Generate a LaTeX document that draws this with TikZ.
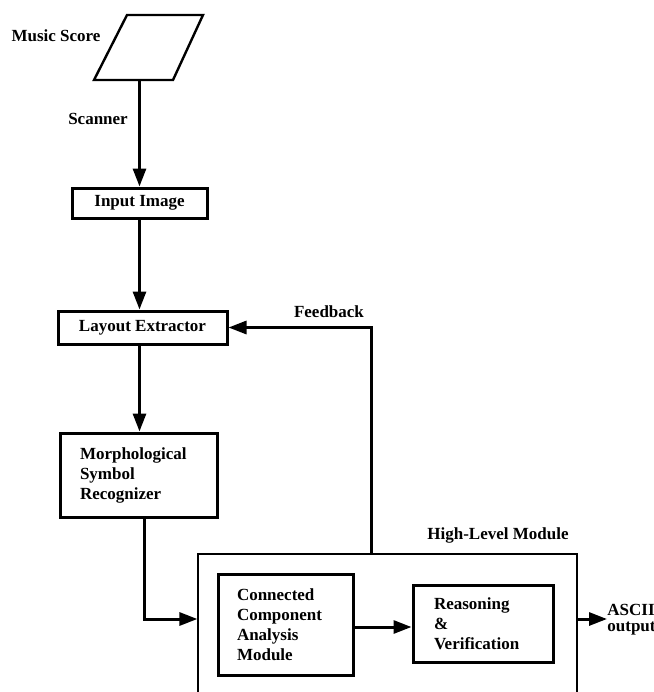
\documentclass[tikz,border=0pt]{standalone}
\usepackage{fontspec}
\setmainfont{Liberation Serif}
\usetikzlibrary{arrows.meta, positioning}

\begin{document}
\begin{tikzpicture}[x=0.5pt, y=-0.5pt,
    every node/.style={font=\fontsize{8.5}{10}\selectfont\bfseries},
    block/.style={draw, line width=1.5pt, inner sep=0pt},
    textblock/.style={block, align=left, text width=#1},
    arr/.style={line width=1.5pt, -{Triangle[length=9pt,width=6.5pt]}}]
    \clip (0,0) rectangle (654,692);

    % Music score and scanner
    \draw[line width=1.2pt] (127,15) -- (203,15) -- (173,80) -- (94,80) -- cycle;
    \coordinate (score) at (139.5,80);
    \node (scorelabel) at (56,36) {Music Score};
    \node (scanner) at (98,119) {Scanner};

    % Front end
    \node[block, minimum width=67.5pt, minimum height=15pt] (input) at (139.5,203) {Input Image};
    \node[block, minimum width=84.5pt, minimum height=16.5pt] (layout) at (142.5,327.5) {Layout Extractor};
    \node[textblock=58.5pt, inner xsep=10pt, minimum height=42pt] (morph) at (138.5,475)
        {Morphological\\Symbol\\Recognizer};

    % High-level module
    \node[draw, line width=0.6pt, minimum width=189.5pt, minimum height=138pt] (hl) at (387.5,692) {};
    \node (hllabel) at (498,535) {High-Level Module};
    \node[textblock=48.5pt, inner xsep=9.5pt, minimum height=50.5pt] (cc) at (285.5,624.5)
        {Connected\\Component\\Analysis\\Module};
    \node[textblock=49pt, inner xsep=10.5pt, minimum height=38.5pt] (rv) at (483,623.5)
        {Reasoning\\\&\\Verification};
    \node[align=left, inner sep=0pt, anchor=west, font=\fontsize{8.5}{8}\selectfont\bfseries] (ascii) at (607,620) {ASCII\\output};

    % Arrows
    \draw[arr] (score) -- (input.north);
    \draw[arr] (input.south) -- (input.south |- layout.north);
    \draw[arr] (layout.south -| input.south) -- (input.south |- morph.north);
    \draw[arr] (morph.south -| 144,0) |- (hl.west |- 0,619);
    \draw[arr] (cc.east |- 0,627) -- (rv.west |- 0,627);
    \draw[arr] (hl.east |- 0,619) -- (ascii.west |- 0,619);

    % Feedback
    \draw[arr] (hl.north -| 371,0) |- (layout.east);
    \node (feedback) at (329,312) {Feedback};
\end{tikzpicture}
\end{document}
